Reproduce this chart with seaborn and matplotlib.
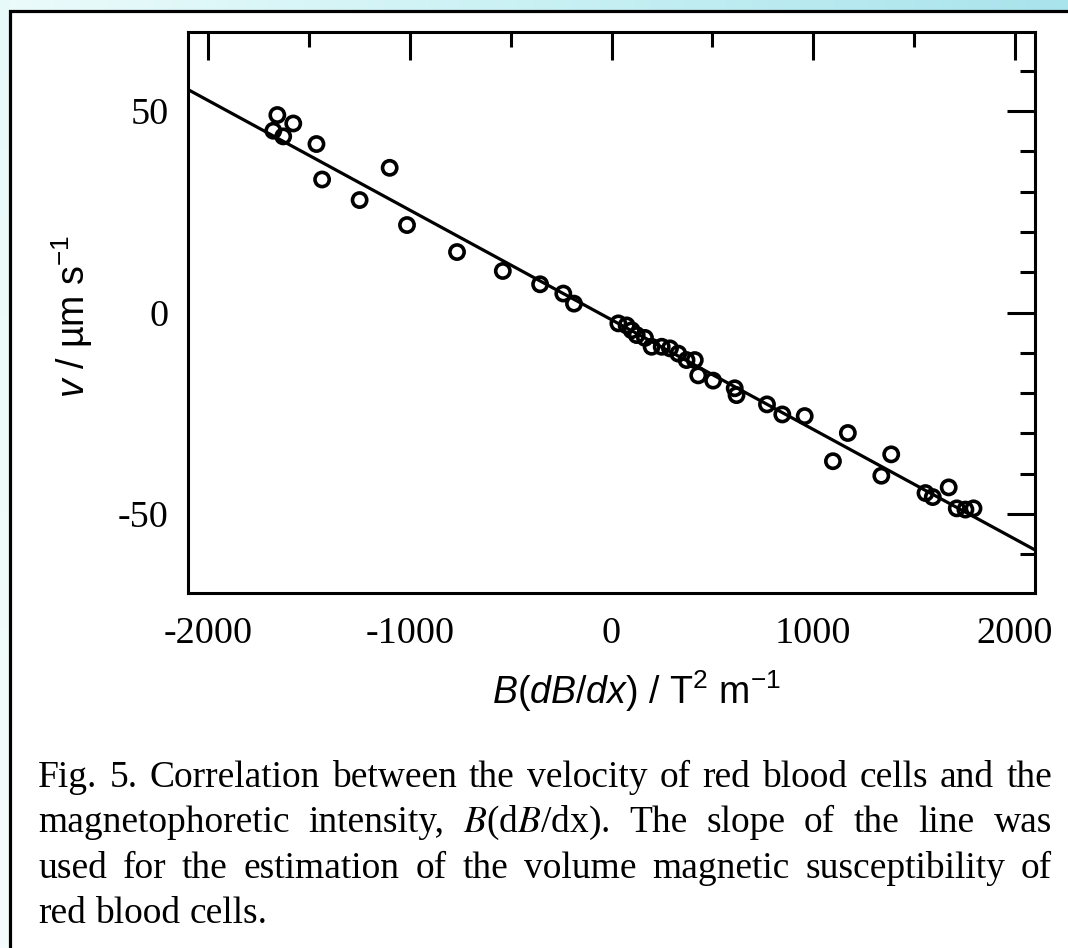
import numpy as np
import matplotlib
matplotlib.use("Agg")
import matplotlib.pyplot as plt
from matplotlib.colors import LinearSegmentedColormap
from matplotlib.patches import Rectangle
from matplotlib.ticker import MultipleLocator
import seaborn as sns

# Magnetophoretic intensity B(dB/dx) [T^2 m^-1] and red blood cell velocity [um/s]
field_gradient = [-1677, -1657, -1628, -1578, -1463, -1435, -1249, -1100, -1014,
                  -766, -539, -354, -239, -186, 34, 75, 100, 125, 166, 199, 249,
                  290, 331, 372, 413, 430, 504, 611, 620, 771, 847, 958, 1098,
                  1172, 1338, 1387, 1557, 1593, 1672, 1712, 1755, 1795]
velocity = [45.1, 49.0, 43.7, 46.9, 41.8, 33.0, 27.9, 35.9, 21.7,
            15.0, 10.3, 7.0, 4.7, 2.2, -2.7, -3.2, -4.4, -5.6, -6.3, -8.5, -8.5,
            -8.9, -10.2, -11.8, -11.8, -15.6, -16.9, -18.8, -20.5, -22.8, -25.3, -25.7, -36.9,
            -29.9, -40.5, -35.2, -44.8, -45.8, -43.4, -48.6, -48.9, -48.6]

# Linear fit of velocity against B(dB/dx)
fit_slope = -0.0272
fit_intercept = -1.8

x_ticks = [-2000, -1000, 0, 1000, 2000]
x_tick_labels = ["-2000", "-1000", "0", "1000", "2000"]
y_ticks = [-50, 0, 50]
y_tick_labels = ["-50", "0", "50"]

x_label = r"$\mathit{B(dB/dx)}$ / T$^2$ m$^{-1}$"
y_label = r"$\mathit{v}$ / µm s$^{-1}$"

caption_lines = [
    ["Fig.", "5.", "Correlation", "between", "the", "velocity", "of", "red", "blood", "cells", "and", "the"],
    ["magnetophoretic", "intensity,", r"$B$(d$B$/dx).", "The", "slope", "of", "the", "line", "was"],
    ["used", "for", "the", "estimation", "of", "the", "volume", "magnetic", "susceptibility", "of"],
    ["red", "blood", "cells."],
]

sns.set_theme(style="white")
plt.rcParams["font.family"] = ["Liberation Serif", "DejaVu Serif"]
plt.rcParams["mathtext.fontset"] = "custom"
plt.rcParams["mathtext.rm"] = "Liberation Sans"
plt.rcParams["mathtext.it"] = "Liberation Sans:italic"

W, H = 1068, 948
fig = plt.figure(figsize=(W / 100, H / 100), dpi=100)
fig.patch.set_facecolor("white")

# Slide background with the bordered white panel
bg = fig.add_axes([0, 0, 1, 1], zorder=-10)
bg.set_xlim(0, W)
bg.set_ylim(H, 0)
bg.axis("off")
band_cmap = LinearSegmentedColormap.from_list("band", ["#ecfbfb", "#c9f1f4", "#a9e3ec"])
bg.imshow(np.linspace(0, 1, 256)[None, :], extent=[0, W, 11, 0], aspect="auto", cmap=band_cmap)
side_cmap = LinearSegmentedColormap.from_list("side", ["#e8f9f9", "#f5fcfc"])
bg.imshow(np.linspace(0, 1, 256)[:, None], extent=[0, 10, H, 0], aspect="auto", cmap=side_cmap)
bg.add_patch(Rectangle((9.5, 10.5), W + 50, H + 50, facecolor="white",
                       edgecolor="black", linewidth=2.3))

# Main scatter axes
left, right, top, bottom = 188, 1035, 32, 593
ax = fig.add_axes([left / W, 1 - bottom / H, (right - left) / W, (bottom - top) / H])
ax.set_facecolor("none")

sns.scatterplot(x=field_gradient, y=velocity, ax=ax, marker="o", s=105,
                color="black", facecolor="none", edgecolor="black",
                linewidth=2.6, zorder=3, legend=False)
ax.axline((0, fit_intercept), slope=fit_slope, color="black", linewidth=2.3, zorder=4)

ax.set_xlim(-2100, 2100)
ax.set_ylim(-69.6, 69.6)
ax.set_xticks(x_ticks, x_tick_labels)
ax.set_yticks(y_ticks, y_tick_labels)
ax.xaxis.set_minor_locator(MultipleLocator(500))
ax.yaxis.set_minor_locator(MultipleLocator(10))

ax.tick_params(which="both", direction="in", top=True, right=True,
               width=2.2, color="black", labelcolor="black")
ax.tick_params(which="major", length=20, labelsize=27.5)
ax.tick_params(which="minor", length=10.5)
ax.tick_params(axis="x", which="major", pad=17)
ax.tick_params(axis="y", which="major", pad=14)
for spine in ax.spines.values():
    spine.set_linewidth(2.2)
    spine.set_color("black")

ax.set_xlabel(x_label, fontfamily="Liberation Sans", fontsize=27, color="black")
ax.set_ylabel(y_label, fontfamily="Liberation Sans", fontsize=27, color="black")
ax.xaxis.set_label_coords((636 - left) / (right - left), (bottom - 668) / (bottom - top))
ax.yaxis.set_label_coords((95 - left) / (right - left), (bottom - 316) / (bottom - top))

# Justified caption below the chart
fig.canvas.draw()
renderer = fig.canvas.get_renderer()
cap_left, cap_right = 38, 1052
baselines = [787, 832, 877.5, 923]
cap_size = 27
space_px = 0.25 * cap_size * 100 / 72
for i, words in enumerate(caption_lines):
    yf = 1 - baselines[i] / H
    texts = [fig.text(0, yf, w, fontsize=cap_size, va="baseline", ha="left",
                      color="black", math_fontfamily="stix") for w in words]
    widths = [t.get_window_extent(renderer).width for t in texts]
    if i < len(caption_lines) - 1:
        gap = (cap_right - cap_left - sum(widths)) / (len(words) - 1)
    else:
        gap = space_px
    xpos = cap_left
    for t, w in zip(texts, widths):
        t.set_x(xpos / W)
        xpos += w + gap

fig.savefig("out.png", dpi=100, facecolor=fig.get_facecolor())
